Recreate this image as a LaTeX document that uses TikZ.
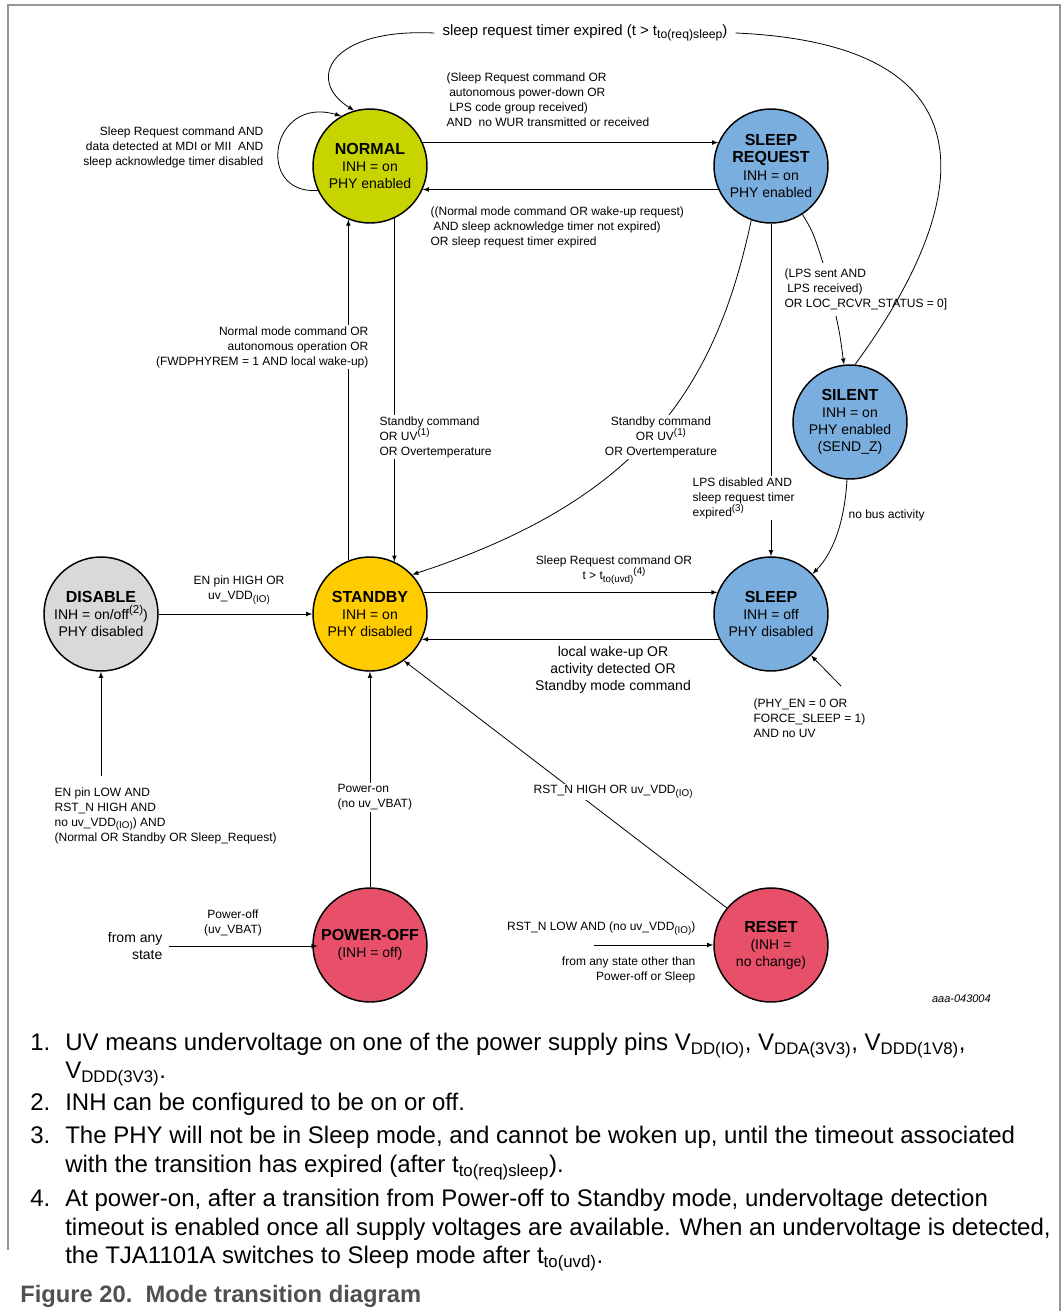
\documentclass[tikz,border=0pt]{standalone}
\usepackage{fontspec}
\setmainfont{Liberation Sans}
\usetikzlibrary{arrows,calc,positioning}

\definecolor{normalc}{RGB}{200,212,0}
\definecolor{sleepc}{RGB}{122,174,222}
\definecolor{standbyc}{RGB}{255,204,0}
\definecolor{disablec}{RGB}{217,217,217}
\definecolor{offc}{RGB}{232,80,106}
\definecolor{framec}{RGB}{150,150,150}
\definecolor{capc}{RGB}{80,80,80}

\tikzstyle{state} = [draw, circle, line width=1.1pt, minimum size=85.5pt, inner sep=0pt, align=center, font=\fontsize{10.5}{12.8}\selectfont]
\tikzstyle{line} = [draw, line width=0.6pt, -latex]
\tikzstyle{lbl} = [inner sep=1pt, font=\fontsize{9}{11.25}\selectfont]
\tikzstyle{lblbig} = [inner sep=1pt, font=\fontsize{10.5}{13}\selectfont]
\tikzstyle{note} = [inner sep=0pt, anchor=base west, font=\fontsize{18}{21.4}\selectfont]

\newcommand{\ttl}[1]{{\fontsize{12}{14}\selectfont\bfseries #1}}
\newcommand{\dn}[1]{\raisebox{-0.45ex}{\scalebox{0.82}{#1}}}
\newcommand{\up}[1]{\raisebox{0.75ex}{\scalebox{0.82}{#1}}}

\begin{document}
\begin{tikzpicture}[x=0.75pt, y=-0.75pt]

		\useasboundingbox (0,0) rectangle (1064,1311);
		\draw [framec, line width=1.2pt] (8,1250) -- (8,5) -- (1060,5) -- (1060,1311);

		% states
		\node [state, fill=normalc] (normal) at (370,166) {\ttl{NORMAL}\\INH = on\\PHY enabled};
		\node [state, fill=sleepc] (sreq) at (771,166) {\ttl{SLEEP}\\\ttl{REQUEST}\\INH = on\\PHY enabled};
		\node [state, fill=sleepc] (silent) at (850,422) {\ttl{SILENT}\\INH = on\\PHY enabled\\(SEND\_Z)};
		\node [state, fill=disablec] (disable) at (101,614) {\ttl{DISABLE}\\INH = on/off\up{(2)})\\PHY disabled};
		\node [state, fill=standbyc] (standby) at (370,614) {\ttl{STANDBY}\\INH = on\\PHY disabled};
		\node [state, fill=sleepc] (sleep) at (771,614) {\ttl{SLEEP}\\INH = off\\PHY disabled};
		\node [state, fill=offc] (poweroff) at (370,945) {\ttl{POWER-OFF}\\(INH = off)};
		\node [state, fill=offc] (reset) at (771,945) {\ttl{RESET}\\(INH =\\no change)};

		% normal loop
		\draw [line] (normal.205) .. controls (255,195) and (270,95) .. (normal.120);
		\node [lbl, align=right, anchor=east] (loopl) at (265,147) {Sleep Request command AND\\data detected at MDI or MII\ \ AND\\sleep acknowledge timer disabled};

		% sleep request timer expired
		\node [lblbig, inner sep=6pt, font=\fontsize{11.2}{13}\selectfont] (tmr) at (585,33) {sleep request timer expired (t > t\dn{to(req)sleep})};
		\draw [line width=0.6pt] (silent.85) .. controls (965,215) and (1010,45) .. (tmr.east);
		\draw [line] (tmr.west) .. controls (330,28) and (305,80) .. (normal.106);

		% normal <-> sleep request
		\draw [line] (normal.24) -- (sreq.156);
		\draw [line] (sreq.204) -- (normal.-24);
		\node [lbl, align=left, anchor=west] (tosr) at (445,99.5) {(Sleep Request command OR\\\hspace*{2pt}autonomous power-down OR\\\hspace*{2pt}LPS code group received)\\AND\ \ no WUR transmitted or received};
		\node [lbl, align=left, anchor=west] (fromsr) at (429,227) {((Normal mode command OR wake-up request)\\\hspace*{2pt}AND sleep acknowledge timer not expired)\\OR sleep request timer expired};

		% sleep request -> standby
		\draw [line] (sreq.250) .. controls (715,390) and (640,500) .. (standby.43);
		\node [lbl, fill=white, align=center] (sbc2) at (661,437) {Standby command\\OR UV\up{(1)}\\OR Overtemperature};

		% sleep request -> sleep
		\draw [line] (sreq.south) -- (sleep.north);
		\node [lbl, fill=white, align=left, anchor=west] (lpsd) at (691,498) {LPS disabled AND\\sleep request timer\\expired\up{(3)}};

		% sleep request -> silent
		\coordinate (lpsa) at (823,263);
		\coordinate (lpsb) at (836,316);
		\draw [line width=0.6pt] (sreq.-57) .. controls (813,232) .. (lpsa);
		\draw [line] (lpsb) .. controls (840,335) .. (silent.96);
		\node [lbl, align=left, anchor=west] (lpss) at (783,289) {(LPS sent AND\\\hspace*{2pt}LPS received)\\OR LOC\_RCVR\_STATUS = 0]};

		% silent -> sleep
		\draw [line] (silent.-93) .. controls (845,515) and (836,550) .. (sleep.44);
		\node [lbl, anchor=west] (nobus) at (847,515) {no bus activity};

		% standby <-> normal
		\draw [line] (standby.112) -- (normal.248);
		\node [lbl, fill=white, align=right, anchor=east] (nmc) at (370,347) {Normal mode command OR\\autonomous operation OR\\(FWDPHYREM = 1 AND local wake-up)};
		\draw [line] (normal.-65) -- (standby.65);
		\node [lbl, fill=white, align=left, anchor=west] (sbc1) at (378,437) {Standby command\\OR UV\up{(1)}\\OR Overtemperature};

		% disable -> standby
		\draw [line] (disable.east) -- (standby.west);
		\node [lbl, align=center] (enhi) at (239,590) {EN pin HIGH OR\\uv\_VDD\dn{(IO)}};

		% standby <-> sleep
		\draw [line] (standby.22) -- (sleep.158);
		\draw [line] (sleep.206) -- (standby.-26);
		\node [lbl, align=center] (slrq) at (614,570) {Sleep Request command OR\\t > t\dn{to(uvd)}\up{(4)}};
		\node [lblbig, align=center] (lwu) at (613,670) {local wake-up OR\\activity detected OR\\Standby mode command};

		% into sleep
		\coordinate (phyen) at (841,686);
		\draw [line] (phyen) -- (sleep.-46);
		\node [lbl, align=left, anchor=west] (phy) at (752,718) {(PHY\_EN = 0 OR\\FORCE\_SLEEP = 1)\\AND no UV};

		% into disable
		\node [lbl, align=left, anchor=west] (enlow) at (53,815.5) {EN pin LOW AND\\RST\_N HIGH AND\\no uv\_VDD\dn{(IO)}) AND\\(Normal OR Standby OR Sleep\_Request)};
		\draw [line] ([yshift=7pt]enlow.north -| disable.south) -- (disable.south);

		% power-off -> standby
		\draw [line] (poweroff.north) -- (standby.south);
		\node [lbl, fill=white, align=left, anchor=west] (pon) at (336,797.5) {Power-on\\(no uv\_VBAT)};

		% into power-off
		\node [lblbig, align=right, anchor=east] (fromany) at (164,946) {from any\\state};
		\draw [line] ([xshift=4pt]fromany.east) -- ([xshift=4pt]fromany.east -| poweroff.west);
		\node [lbl, align=center] (poff) at (233,922.5) {Power-off\\(uv\_VBAT)};

		% reset -> standby
		\draw [line] (reset.140) -- (standby.-54);
		\node [lbl, fill=white, anchor=west] (rsthi) at (532,792) {RST\_N HIGH OR uv\_VDD\dn{(IO)}};

		% into reset
		\coordinate (rstlow) at (594,945);
		\draw [line] (rstlow) -- (reset.west);
		\node [lbl, anchor=east] (rstlo) at (697,929) {RST\_N LOW AND (no uv\_VDD\dn{(IO)})};
		\node [lbl, align=right, anchor=east] (anyst) at (697,969.5) {from any state other than\\Power-off or Sleep};

		\node [font=\fontsize{8.25}{10}\selectfont\itshape, anchor=east, inner sep=0pt] (code) at (991,999) {aaa-043004};

		% notes
		\foreach \n/\y in {1/1050, 2/1110, 3/1143, 4/1206}
			\node [note] (num\n) at (30,\y) {\n.};
		\node [note] (note1a) at (65,1050) {UV means undervoltage on one of the power supply pins V\textsubscript{DD(IO)}, V\textsubscript{DDA(3V3)}, V\textsubscript{DDD(1V8)},};
		\node [note] (note1b) at (65,1078) {V\textsubscript{DDD(3V3)}.};
		\node [note] (note2) at (65,1110) {INH can be configured to be on or off.};
		\node [note] (note3a) at (65,1143) {The PHY will not be in Sleep mode, and cannot be woken up, until the timeout associated};
		\node [note] (note3b) at (65,1172) {with the transition has expired (after t\textsubscript{to(req)sleep}).};
		\node [note] (note4a) at (65,1206) {At power-on, after a transition from Power-off to Standby mode, undervoltage detection};
		\node [note] (note4b) at (65,1235) {timeout is enabled once all supply voltages are available. When an undervoltage is detected,};
		\node [note] (note4c) at (65,1263) {the TJA1101A switches to Sleep mode after t\textsubscript{to(uvd)}.};

		\node [anchor=base west, inner sep=0pt, text=capc, font=\fontsize{17.8}{21}\selectfont\bfseries] (cap) at (20,1302) {Figure 20.\ \ Mode transition diagram};

\end{tikzpicture}
\end{document}
